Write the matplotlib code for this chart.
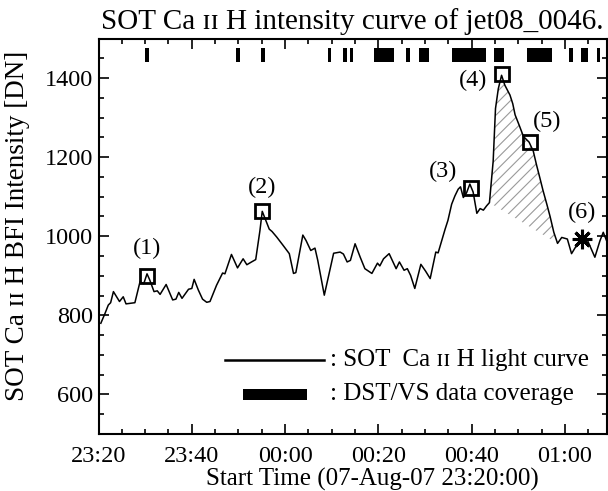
import numpy as np
import matplotlib
matplotlib.use("Agg")
import matplotlib.pyplot as plt

plt.rcParams['font.family'] = ['Liberation Serif', 'DejaVu Serif']
plt.rcParams['hatch.linewidth'] = 0.8

# ---- data: minutes since 23:20:00 (07-Aug-07) ----
time_min = [0.5, 1.4, 2.1, 2.6, 3.2, 4.5, 5.3, 5.9, 7.8, 8.9, 9.7, 10.4, 11.0, 11.9,
            12.6, 13.2, 14.5, 15.9, 16.6, 17.2, 17.9, 19.3, 20.0, 20.5, 21.4, 22.3,
            23.2, 23.9, 25.3, 26.6, 27.1, 28.5, 29.8, 31.0, 31.8, 32.8, 33.7, 34.6,
            35.1, 36.6, 37.2, 38.2, 39.5, 40.9, 41.8, 42.3, 43.8, 44.5, 45.5, 46.4,
            47.0, 48.4, 50.4, 51.8, 52.5, 53.3, 54.0, 55.0, 56.1, 57.1, 58.6, 59.8,
            60.3, 61.1, 62.3, 63.8, 64.5, 65.5, 66.2, 66.9, 67.8, 69.1, 70.1, 71.1,
            72.3, 72.8, 74.3, 74.9, 75.7, 76.4, 77.1, 77.6, 78.2, 78.9, 79.6, 80.3,
            81.1, 81.8, 82.5, 83.2, 83.8, 84.6, 85.1, 85.7, 86.4, 87.1, 88.2, 88.8,
            89.3, 90.2, 91.1, 92.3, 93.2, 93.9, 94.6, 95.3, 96.1, 96.8, 97.6, 98.4,
            99.3, 100.5, 101.4, 102.9, 103.6, 104.8, 106.4, 107.5, 108.2, 108.9]
intensity = [780, 805, 826, 832, 860, 835, 847, 829, 832, 885, 880, 905, 889, 860,
             862, 853, 878, 839, 841, 858, 843, 866, 868, 891, 864, 841,
             833, 835, 876, 907, 905, 954, 920, 943, 928, 935, 941, 1014,
             1063, 1018, 1012, 998, 978, 956, 906, 908, 1003, 989, 964, 970,
             939, 851, 957, 960, 955, 935, 939, 981, 947, 918, 906, 932,
             925, 943, 956, 918, 935, 914, 918, 901, 868, 929, 912, 893,
             960, 958, 1018, 1040, 1081, 1102, 1119, 1125, 1098, 1110, 1132, 1112,
             1058, 1070, 1066, 1077, 1085, 1190, 1323, 1373, 1407, 1382, 1357, 1335,
             1307, 1280, 1252, 1238, 1215, 1180, 1148, 1115, 1081, 1050, 1010, 982,
             997, 993, 956, 985, 992, 990, 947, 989, 1010, 989]

# events (1)-(5): squares, (6): asterisk
event_labels = ['(1)', '(2)', '(3)', '(4)', '(5)', '(6)']
event_time = [10.5, 35.0, 79.9, 86.4, 92.4, 103.6]
event_value = [900, 1065, 1122, 1410, 1238, 992]
label_time = [10.5, 35.1, 73.9, 80.3, 96.1, 103.6]
label_value = [968, 1123, 1165, 1395, 1290, 1060]

# hatched area: from start to end of the main brightening
hatch_start, hatch_end = 83.8, 98.4

# DST/VS data coverage intervals (minutes since 23:20)
cov_start = [10.0, 29.4, 34.8, 49.1, 52.5, 53.9, 59.1, 65.9, 68.8, 75.7, 84.8, 91.8, 100.9, 103.4, 106.8]
cov_end   = [10.8, 30.3, 35.7, 49.8, 53.3, 54.6, 63.4, 66.8, 70.8, 83.0, 86.9, 97.3, 101.8, 104.9, 107.4]
cov_low, cov_high = 1440, 1477

xtick_pos = [0, 20, 40, 60, 80, 100]
xtick_labels = ['23:20', '23:40', '00:00', '00:20', '00:40', '01:00']
ytick_pos = [600, 800, 1000, 1200, 1400]

# ---- figure ----
W, H = 608, 491
fig = plt.figure(figsize=(W / 100, H / 100), dpi=100)
L, R, T, B = 98.5, 607, 38.5, 434
ax = fig.add_axes([L / W, 1 - B / H, (R - L) / W, (B - T) / H])

t = np.array(time_min)
v = np.array(intensity)

# hatched region
m = (t >= hatch_start) & (t <= hatch_end)
ax.fill(t[m], v[m], facecolor='none', edgecolor='#9a9a9a', hatch='///', linewidth=0)

ax.plot(t, v, color='black', lw=1.1)

# coverage bars
for s, e in zip(cov_start, cov_end):
    ax.fill_between([s, e], cov_low, cov_high, color='black', linewidth=0)

# markers
ax.plot(event_time[:5], event_value[:5], ls='none', marker='s', ms=10,
        mfc='none', mec='black', mew=2)
ax.plot(event_time[5:], event_value[5:], ls='none', marker=(8, 2, 0), ms=14,
        mec='black', mew=2.2)
for lab, lt, lv in zip(event_labels, label_time, label_value):
    ax.text(lt, lv, lab, ha='center', va='center', fontsize=17.5)

ax.set_xlim(0, 109)
ax.set_ylim(500, 1500)
ax.set_xticks(xtick_pos)
ax.set_xticklabels(xtick_labels)
ax.set_xticks(np.arange(0, 109, 5), minor=True)
ax.set_yticks(ytick_pos)
ax.set_yticks(np.arange(550, 1500, 50), minor=True)
ax.tick_params(which='both', direction='in', top=True, right=True, width=1.2)
ax.tick_params(which='major', length=7, labelsize=17.5)
ax.tick_params(which='minor', length=3.5)
ax.tick_params(axis='x', pad=9)
ax.tick_params(axis='y', pad=4)
for sp in ax.spines.values():
    sp.set_linewidth(1.5)

# legend (manual)
ax.plot([0.248, 0.443], [0.186, 0.186], transform=ax.transAxes, color='black', lw=1.8)
ax.fill_between([0.285, 0.410], 0.087, 0.115, transform=ax.transAxes, color='black', linewidth=0)
ax.text(0.455, 0.186, ': SOT  Ca \u026a\u026a H light curve', transform=ax.transAxes,
        ha='left', va='center', fontsize=18)
ax.text(0.455, 0.101, ': DST/VS data coverage', transform=ax.transAxes,
        ha='left', va='center', fontsize=18)

fig.text((L + R) / 2 / W, 1 - 29 / H, 'SOT Ca \u026a\u026a H intensity curve of jet08_0046.',
         ha='center', va='baseline', fontsize=21)
fig.text(18 / W, 1 - 226 / H, 'SOT Ca \u026a\u026a H BFI Intensity [DN]', rotation=90,
         ha='center', va='center', fontsize=19.5)
fig.text(372 / W, 1 - 479 / H, 'Start Time (07-Aug-07 23:20:00)', ha='center', va='center',
         fontsize=18)

fig.savefig('out.png', dpi=100)
